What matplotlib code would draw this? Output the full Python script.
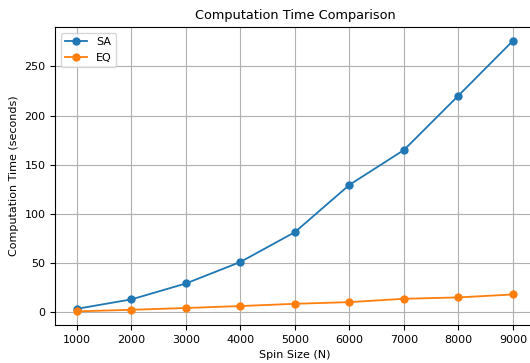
import numpy as np
import matplotlib.pyplot as plt

spin_sizes = [1000, 2000, 3000, 4000, 5000, 6000, 7000, 8000, 9000]
sa_times = [3.3, 12.9, 29.1, 51.0, 81.4, 129.5, 165.0, 220.4, 276.2]
eq_times = [0.7, 2.3, 4.1, 6.1, 8.4, 10.1, 13.5, 14.9, 17.9]

fig, ax = plt.subplots(figsize=(5.3, 3.63), dpi=100)
ax.plot(spin_sizes, sa_times, marker='o', markersize=5, linewidth=1.3, label='SA')
ax.plot(spin_sizes, eq_times, marker='o', markersize=5, linewidth=1.3, label='EQ')

ax.set_title('Computation Time Comparison', fontsize=9.3)
ax.set_xlabel('Spin Size (N)', fontsize=8)
ax.set_ylabel('Computation Time (seconds)', fontsize=8)
ax.set_xticks(spin_sizes)
ax.tick_params(labelsize=8)
ax.legend(fontsize=8, loc='upper left')
ax.grid(True)

# the original is cropped on the right, axes run past the image edge
fig.subplots_adjust(left=0.104, right=1.009, top=0.925, bottom=0.105)
fig.savefig('out.png')
